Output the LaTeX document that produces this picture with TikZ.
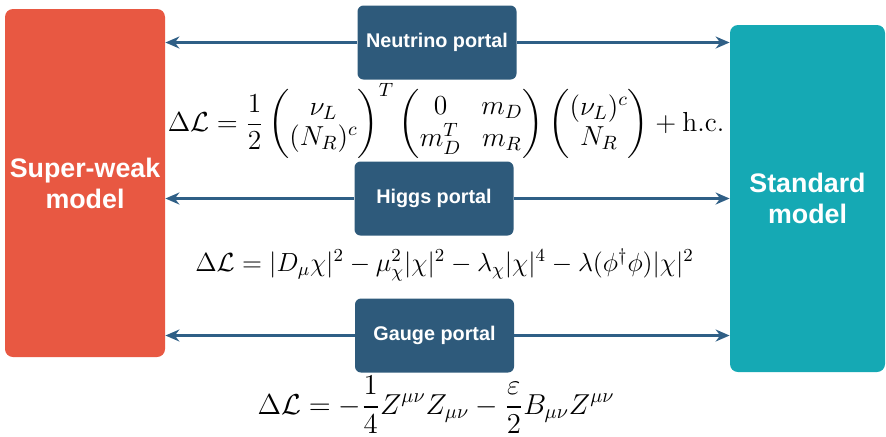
\RequirePackage{fix-cm}
\documentclass[tikz,border=0pt]{standalone}
\usepackage{fontspec}
\setsansfont{Liberation Sans}
\usepackage{amsmath}
\usetikzlibrary{arrows.meta}
\definecolor{rojo}{HTML}{E85842}
\definecolor{turquesa}{HTML}{15A9B4}
\definecolor{marino}{HTML}{2E5A7B}
\definecolor{azulflecha}{HTML}{2F5F86}
\begin{document}
\begin{tikzpicture}[
    x=0.5pt,
    y=-0.5pt,
    >={Stealth[length=7pt,width=6pt]},
    modelo/.style={rounded corners=4pt,text=white,align=center,inner sep=0pt,
        font=\sffamily\bfseries\fontsize{13.4}{15.5}\selectfont},
    portal/.style={fill=marino,rounded corners=3pt,text=white,inner sep=0pt,
        minimum width=79.5pt,minimum height=37pt,
        font=\sffamily\bfseries\fontsize{9.9}{12}\selectfont},
    flecha/.style={line width=1.1pt,azulflecha,->},
    ecuacion/.style={inner sep=0pt,font=\fontsize{13.1}{15}\selectfont}
]
    \useasboundingbox (0,0) rectangle (886,436);

    % Modelos
    \node[modelo,fill=rojo,minimum width=80pt,minimum height=174pt]
        (swm) at (85,183) {Super-weak\\model};
    \node[modelo,fill=turquesa,minimum width=77.5pt,minimum height=173.5pt]
        (sm) at (807.5,198.5) {Standard\\model};

    % Portales
    \node[portal] (neutrino) at (437,42.5) {Neutrino portal};
    \node[portal] (higgs) at (434,198.5) {Higgs portal};
    \node[portal] (gauge) at (434.5,335.5) {Gauge portal};

    % Flechas hacia los modelos
    \foreach \p in {neutrino,higgs,gauge}{
        \draw[flecha] (\p.west) -- (\p.west -| swm.east);
        \draw[flecha] (\p.east) -- (\p.east -| sm.west);
    }

    % Lagrangianos
    \node[ecuacion,font=\fontsize{13.75}{15}\selectfont] (lnu) at (446,121)
        {$\displaystyle \Delta\mathcal{L}=\frac{1}{2}
         \begin{pmatrix}\nu_L\\(N_R)^c\end{pmatrix}^{T}
         \begin{pmatrix}0 & m_D\\ m_D^T & m_R\end{pmatrix}
         \begin{pmatrix}(\nu_L)^c\\ N_R\end{pmatrix}+\mathrm{h.c.}$};
    \node[ecuacion] (lhiggs) at (444.5,265)
        {$\Delta\mathcal{L}=|D_\mu\chi|^2-\mu_\chi^2|\chi|^2
         -\lambda_\chi|\chi|^4-\lambda(\phi^\dagger\phi)|\chi|^2$};
    \node[ecuacion,font=\fontsize{14.4}{16}\selectfont] (lgauge) at (436,405)
        {$\displaystyle \Delta\mathcal{L}=-\frac{1}{4}Z^{\mu\nu}Z_{\mu\nu}
         -\frac{\varepsilon}{2}B_{\mu\nu}Z^{\mu\nu}$};
\end{tikzpicture}
\end{document}
